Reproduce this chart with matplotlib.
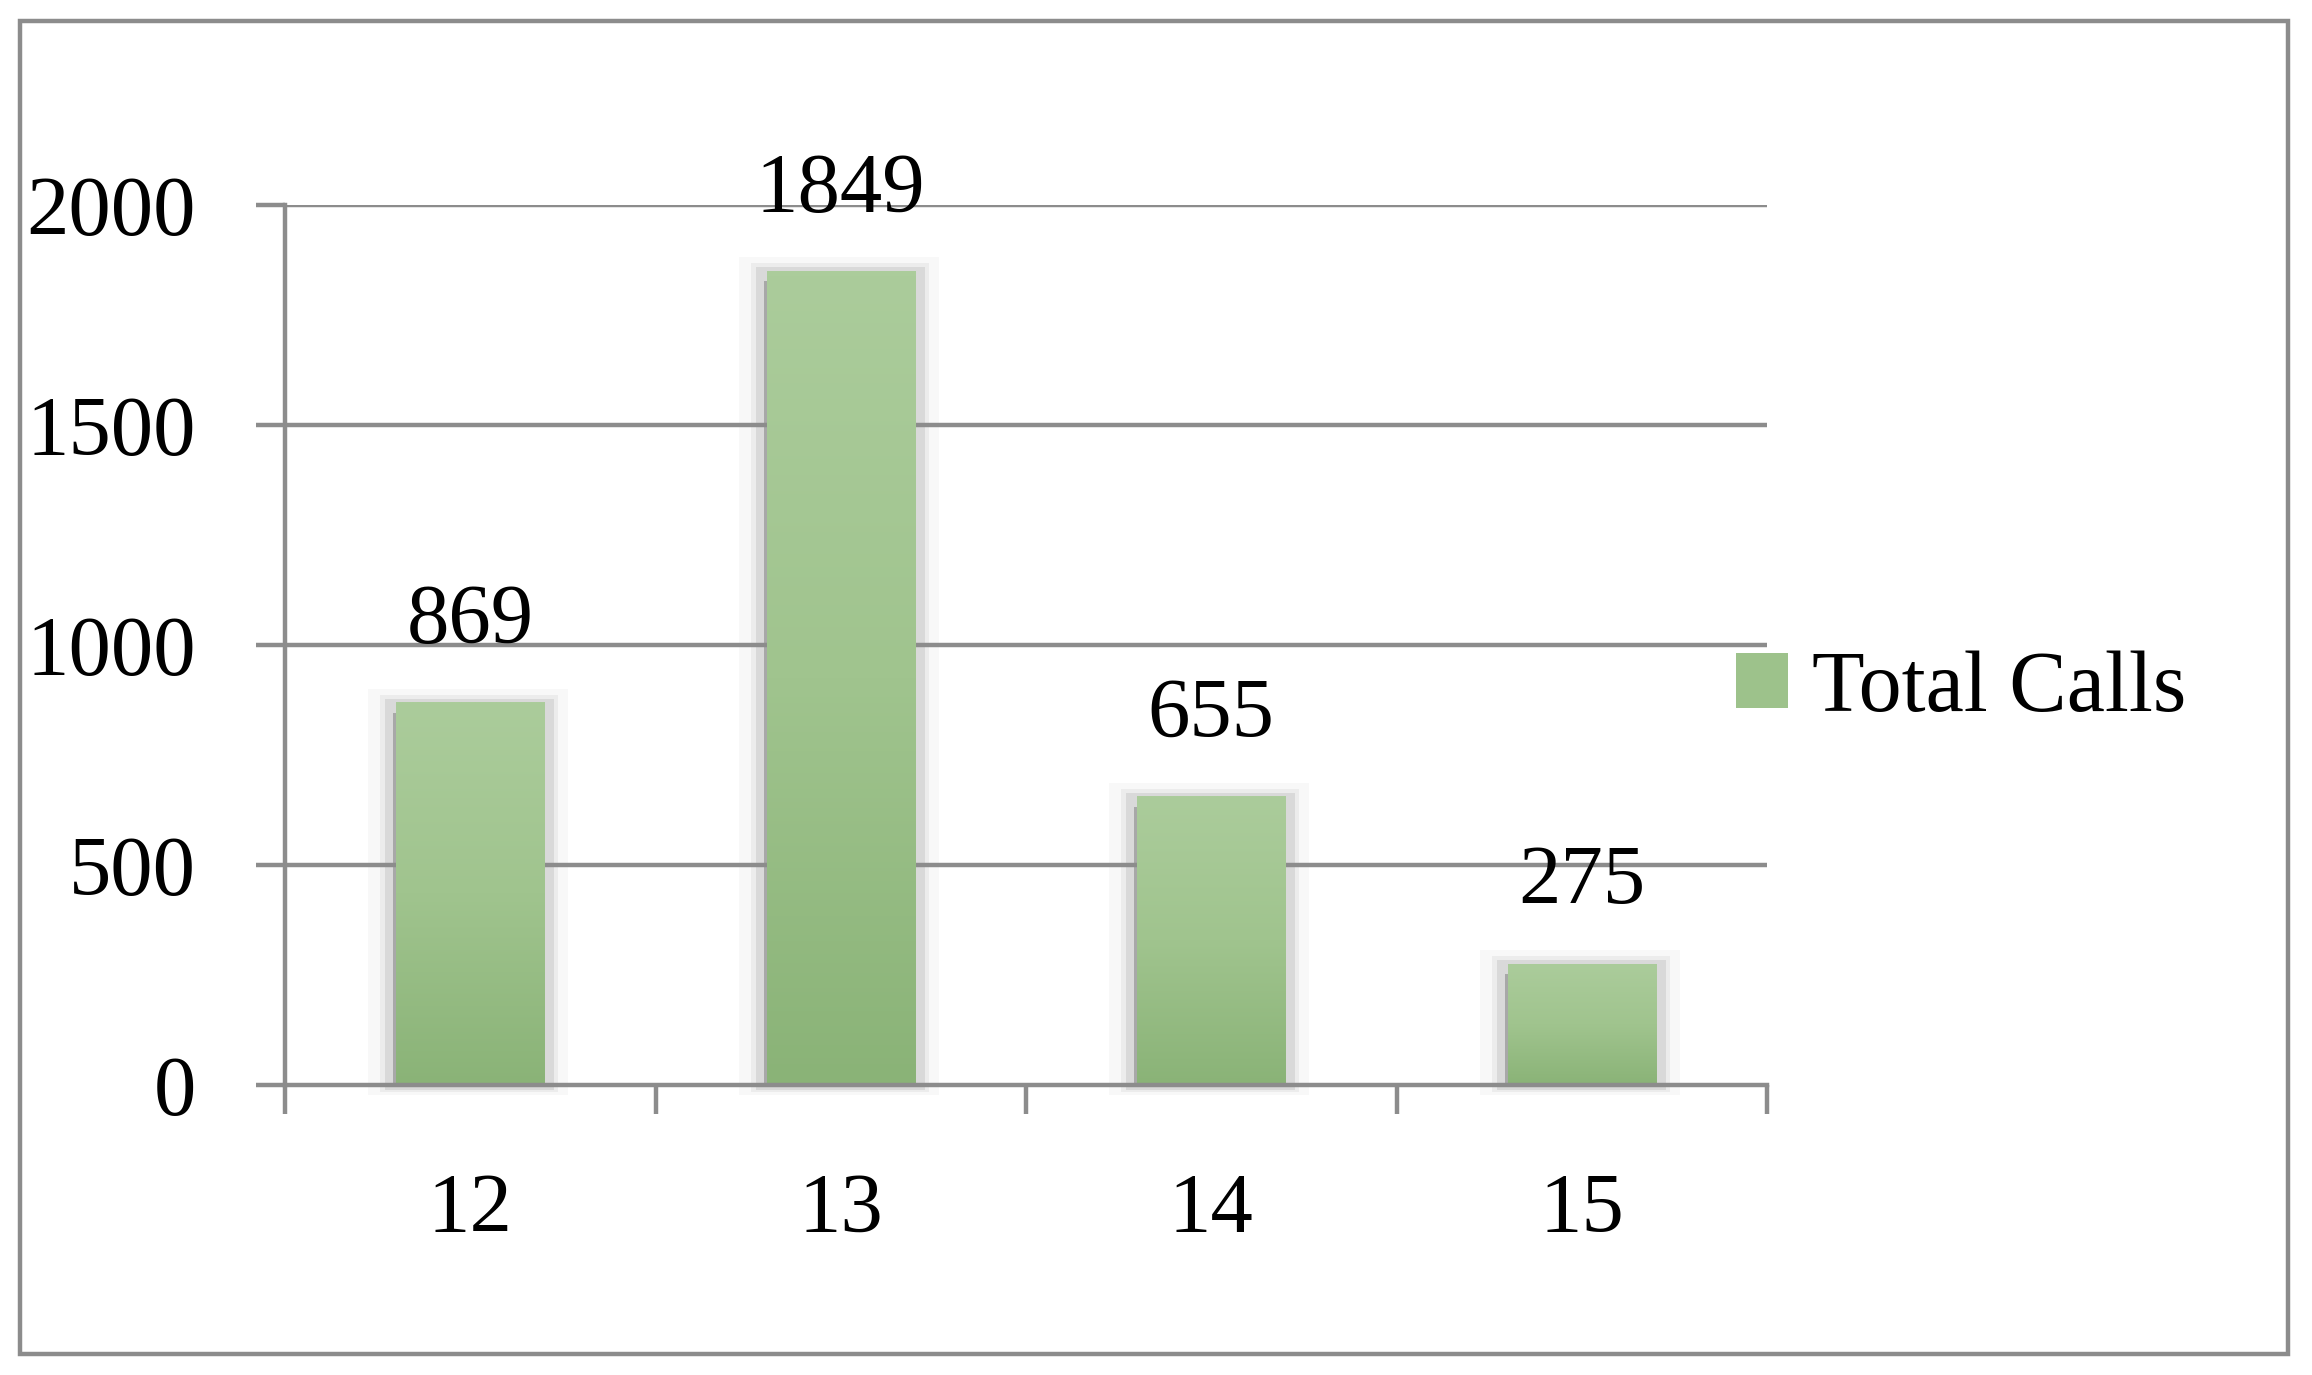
import numpy as np
import matplotlib
matplotlib.use('Agg')
import matplotlib.pyplot as plt
from matplotlib.patches import Rectangle, Patch
from matplotlib.colors import LinearSegmentedColormap

# data
categories = ['12', '13', '14', '15']
total_calls = [869, 1849, 655, 275]
y_ticks = [0, 500, 1000, 1500, 2000]
series_name = 'Total Calls'

plt.rcParams['font.family'] = ['Liberation Serif', 'DejaVu Serif']

W, H = 2312, 1375
fig = plt.figure(figsize=(W / 100, H / 100), dpi=100)
ax = fig.add_axes([285 / W, 1 - 1085 / H, (1767 - 285) / W, (1085 - 205) / H])

grid_col = '#8c8c8c'
lw = 3.2
top_col = '#abcc9b'
bot_col = '#8ab377'
cmap = LinearSegmentedColormap.from_list('bar', [bot_col, '#a0c48e', top_col])

x = np.arange(len(categories))
bar_w = 0.40

# pixel -> data helpers for the soft shadow
px_x = 1.0 / ((1767 - 285) / len(categories))
px_y = 2000.0 / (1085 - 205)

# gridlines (over the shadow, under the bars)
for t in y_ticks[1:]:
    ax.axhline(t, color=grid_col, lw=lw, zorder=1.5)

# soft shadow around bars
shadow_layers = [
    (-28, 24, 14, 10, '#f8f8f8'),
    (-16, 14, 8, 7, '#ececec'),
    (-11, 10, 4, 5, '#d9d9d9'),
]
for xi, v in zip(x, total_calls):
    for l, r, t, b, c in shadow_layers:
        x0 = xi - bar_w / 2 + l * px_x
        x1 = xi + bar_w / 2 + r * px_x
        ax.add_patch(Rectangle((x0, -b * px_y), x1 - x0, v + (t + b) * px_y,
                               facecolor=c, edgecolor='none', zorder=1, clip_on=False))
    ax.add_patch(Rectangle((xi - bar_w / 2 - 3 * px_x, 0), 3 * px_x, v - 10 * px_y,
                           facecolor='#a8a8a8', edgecolor='none', zorder=1.2))

# bars with vertical gradient
grad = np.linspace(0, 1, 256).reshape(-1, 1)
for xi, v in zip(x, total_calls):
    ax.imshow(grad, cmap=cmap, origin='lower', aspect='auto', zorder=2,
              extent=(xi - bar_w / 2, xi + bar_w / 2, 0, v), interpolation='bilinear')
    ax.annotate(str(v), (xi, v), xytext=(0, 43), textcoords='offset points',
                ha='center', va='baseline', fontsize=61, color='black')
ax.set_xlim(-0.5, len(categories) - 0.5)
ax.set_ylim(0, 2000)

# axes styling
for s in ['top', 'right']:
    ax.spines[s].set_visible(False)
for s in ['left', 'bottom']:
    ax.spines[s].set_color(grid_col)
    ax.spines[s].set_linewidth(lw)
    ax.spines[s].set_zorder(3)

ax.set_yticks(y_ticks)
ax.set_yticklabels([str(t) for t in y_ticks])
ax.tick_params(axis='y', direction='out', length=21, width=lw, color=grid_col,
               pad=43, labelsize=61)

ax.set_xticks(np.arange(len(categories) + 1) - 0.5)
ax.set_xticklabels([])
ax.set_xticks(x, minor=True)
ax.set_xticklabels(categories, minor=True)
ax.tick_params(axis='x', which='major', direction='out', length=21, width=lw, color=grid_col)
ax.tick_params(axis='x', which='minor', length=0, pad=63, labelsize=61)

# legend
handle = Patch(facecolor='#9dc28b', edgecolor='none')
fig.legend([handle], [series_name], loc='center left',
           bbox_to_anchor=(1736 / W, 1 - 690 / H), frameon=False, fontsize=62,
           handlelength=0.6, handleheight=0.6, handletextpad=0.28,
           borderpad=0, borderaxespad=0)

# outer chart border
fig.patches.append(Rectangle((20 / W, 21 / H), (2288 - 20) / W, (1354 - 21) / H,
                             transform=fig.transFigure, facecolor='none',
                             edgecolor=grid_col, lw=lw))

fig.savefig('out.png', dpi=100)
